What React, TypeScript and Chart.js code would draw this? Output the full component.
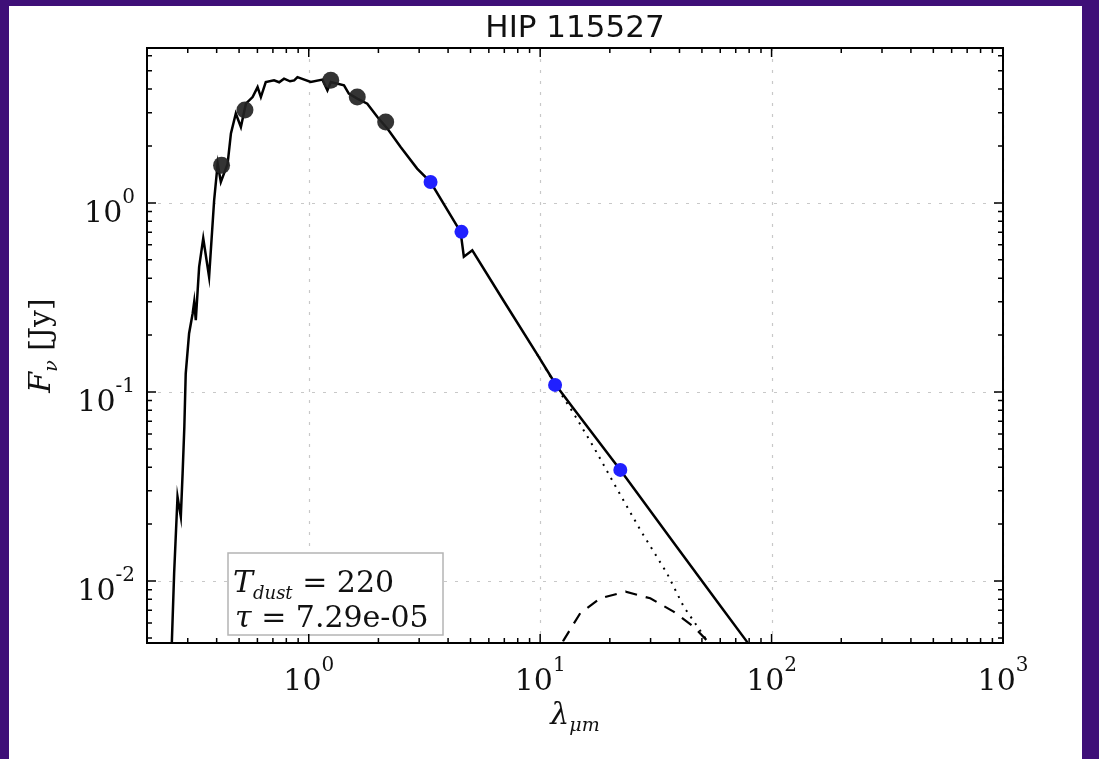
import React, { useEffect, useRef } from "react";
import { Chart, registerables } from "chart.js";

Chart.register(...registerables);

// ---- data ----
const titleText = "HIP 115527";

const modelWavelength = [0.25, 0.256, 0.262, 0.267, 0.271, 0.28, 0.285, 0.29, 0.294, 0.304, 0.315, 0.32, 0.325, 0.336, 0.35, 0.371, 0.39, 0.404, 0.417, 0.446, 0.461, 0.484, 0.509, 0.535, 0.572, 0.601, 0.621, 0.652, 0.708, 0.745, 0.782, 0.83, 0.865, 0.894, 0.95, 1.02, 1.146, 1.204, 1.245, 1.42, 1.49, 1.62, 1.79, 1.98, 2.19, 2.49, 2.94, 3.36, 4.53, 4.68, 5.09, 6.97, 9.71, 11.84, 13.75, 22.2, 37.7, 60, 78.2, 90];
const modelFlux = [0.003, 0.0047, 0.011, 0.0186, 0.0279, 0.0219, 0.037, 0.0655, 0.125, 0.204, 0.26, 0.3, 0.24, 0.459, 0.65, 0.406, 1.03, 1.61, 1.29, 1.61, 2.33, 2.97, 2.52, 3.35, 3.63, 4.1, 3.63, 4.36, 4.45, 4.35, 4.54, 4.4, 4.45, 4.63, 4.5, 4.36, 4.49, 3.94, 4.36, 4.19, 3.79, 3.56, 3.35, 2.85, 2.47, 1.98, 1.52, 1.29, 0.703, 0.519, 0.562, 0.302, 0.158, 0.1066, 0.0835, 0.0387, 0.016, 0.0074, 0.00478, 0.0037];

const photosphereWavelength = [9.71, 11.84, 13.96, 17.0, 20.8, 27.1, 35.3, 41.7, 52.6, 60];
const photosphereFlux = [0.158, 0.105, 0.077, 0.0513, 0.0329, 0.0186, 0.011, 0.00732, 0.00484, 0.0037];

const dustWavelength = [11.5, 12.6, 14.9, 18.2, 23.4, 29.9, 37.7, 46.0, 52.6, 58];
const dustFlux = [0.0038, 0.00484, 0.00676, 0.0081, 0.00879, 0.0081, 0.00689, 0.00574, 0.00484, 0.004];

const opticalWavelength = [0.42, 0.53, 1.245, 1.62, 2.15];
const opticalFlux = [1.58, 3.1, 4.45, 3.63, 2.68];

const wiseWavelength = [3.36, 4.57, 11.6, 22.2];
const wiseFlux = [1.29, 0.703, 0.109, 0.0387];

const xMajorTicks = [1, 10, 100, 1000];
const yMajorTicks = [0.01, 0.1, 1];
const minorMultipliers = [2, 3, 4, 5, 6, 7, 8, 9];
const xRange = [0.2, 1000];
const yRange = [0.0047, 6.6];

const annotationLine1 = { symbol: "T", sub: "dust", value: "220" };
const annotationLine2 = { symbol: "τ", value: "7.29e-05" };

// ---- helpers ----
type Part = { t: string; font: string; dy?: number };
function drawParts(ctx: CanvasRenderingContext2D, parts: Part[], x: number, y: number, align: "left" | "center" | "right") {
  let w = 0;
  for (const p of parts) {
    ctx.font = p.font;
    w += ctx.measureText(p.t).width;
  }
  let cx = align === "left" ? x : align === "center" ? x - w / 2 : x - w;
  ctx.textAlign = "left";
  ctx.textBaseline = "alphabetic";
  for (const p of parts) {
    ctx.font = p.font;
    ctx.fillText(p.t, cx, y + (p.dy || 0));
    cx += ctx.measureText(p.t).width;
  }
}

function minorTicks(range: number[]) {
  const out: number[] = [];
  const lo = Math.floor(Math.log10(range[0]));
  const hi = Math.ceil(Math.log10(range[1]));
  for (let e = lo; e < hi; e++) {
    for (const m of minorMultipliers) {
      const v = m * Math.pow(10, e);
      if (v > range[0] * 1.0001 && v < range[1] * 0.9999) out.push(v);
    }
  }
  return out;
}

const SERIF = '"DejaVu Serif"';
const labelFont = `30px ${SERIF}`;
const supFont = `20px ${SERIF}`;

function powLabel(v: number): Part[] {
  const e = Math.round(Math.log10(v));
  return [
    { t: "10", font: labelFont },
    { t: String(e), font: supFont, dy: -19 },
  ];
}

const sedPlugin = {
  id: "sedDecor",
  beforeDatasetsDraw(chart: any) {
    const { ctx, chartArea: a, scales } = chart;
    const xs = scales.x, ys = scales.y;
    ctx.save();
    ctx.strokeStyle = "#c8c8c8";
    ctx.lineWidth = 1.2;
    ctx.setLineDash([3, 8]);
    for (const v of xMajorTicks) {
      const px = Math.round(xs.getPixelForValue(v)) + 0.5;
      ctx.beginPath();
      ctx.moveTo(px, a.top);
      ctx.lineTo(px, a.bottom);
      ctx.stroke();
    }
    for (const v of yMajorTicks) {
      const py = Math.round(ys.getPixelForValue(v)) + 0.5;
      ctx.beginPath();
      ctx.moveTo(a.left, py);
      ctx.lineTo(a.right, py);
      ctx.stroke();
    }
    ctx.restore();
  },
  afterDatasetsDraw(chart: any) {
    const { ctx, chartArea: a, scales } = chart;
    const xs = scales.x, ys = scales.y;
    ctx.save();
    ctx.setLineDash([]);

    // annotation box
    const bx = a.left + 81, bw = 215, bb = a.bottom - 8, bh = 82;
    ctx.fillStyle = "#ffffff";
    ctx.fillRect(bx, bb - bh, bw, bh);
    ctx.strokeStyle = "#b4b4b4";
    ctx.lineWidth = 1.5;
    ctx.strokeRect(bx, bb - bh, bw, bh);
    ctx.fillStyle = "#111";
    drawParts(ctx, [
      { t: annotationLine1.symbol, font: `italic 30px ${SERIF}` },
      { t: annotationLine1.sub, font: `italic 18px ${SERIF}`, dy: 7 },
      { t: " = " + annotationLine1.value, font: `30px ${SERIF}` },
    ], bx + 5, a.bottom - 51, "left");
    drawParts(ctx, [
      { t: annotationLine2.symbol, font: `italic 30px ${SERIF}` },
      { t: " = " + annotationLine2.value, font: `30px ${SERIF}` },
    ], bx + 7, a.bottom - 16, "left");

    // frame
    ctx.strokeStyle = "#000";
    ctx.lineWidth = 2;
    ctx.strokeRect(a.left, a.top, a.right - a.left, a.bottom - a.top);

    // ticks (inward, all four sides)
    ctx.lineWidth = 1.5;
    const xMinor = minorTicks(xRange);
    const yMinor = minorTicks(yRange);
    const drawX = (v: number, len: number) => {
      const px = xs.getPixelForValue(v);
      ctx.beginPath();
      ctx.moveTo(px, a.bottom); ctx.lineTo(px, a.bottom - len);
      ctx.moveTo(px, a.top); ctx.lineTo(px, a.top + len);
      ctx.stroke();
    };
    const drawY = (v: number, len: number) => {
      const py = ys.getPixelForValue(v);
      ctx.beginPath();
      ctx.moveTo(a.left, py); ctx.lineTo(a.left + len, py);
      ctx.moveTo(a.right, py); ctx.lineTo(a.right - len, py);
      ctx.stroke();
    };
    xMajorTicks.forEach((v) => drawX(v, 9));
    xMinor.forEach((v) => drawX(v, 5));
    yMajorTicks.forEach((v) => drawY(v, 9));
    yMinor.forEach((v) => drawY(v, 5));

    ctx.restore();
  },
  afterDraw(chart: any) {
    const { ctx, chartArea: a, scales } = chart;
    const xs = scales.x, ys = scales.y;
    ctx.save();
    ctx.fillStyle = "#111";
    // tick labels
    for (const v of xMajorTicks) {
      drawParts(ctx, powLabel(v), xs.getPixelForValue(v), a.bottom + 47, "center");
    }
    for (const v of yMajorTicks) {
      drawParts(ctx, powLabel(v), a.left - 12, ys.getPixelForValue(v) + 19, "right");
    }
    const cx = (a.left + a.right) / 2;
    // title
    ctx.font = '31px "DejaVu Sans"';
    ctx.textAlign = "center";
    ctx.textBaseline = "alphabetic";
    ctx.fillText(titleText, cx, 31);
    // x label
    drawParts(ctx, [
      { t: "λ", font: `italic 30px ${SERIF}` },
      { t: "μm", font: `italic 19px ${SERIF}`, dy: 7 },
    ], cx, 718, "center");
    // y label
    ctx.translate(41, (a.top + a.bottom) / 2);
    ctx.rotate(-Math.PI / 2);
    drawParts(ctx, [
      { t: "F", font: `italic 30px ${SERIF}` },
      { t: "ν", font: `italic 19px ${SERIF}`, dy: 7 },
      { t: " [Jy]", font: `30px ${SERIF}` },
    ], 0, 0, "center");
    ctx.restore();
  },
};

function pts(xs: number[], ys: number[]) {
  return xs.map((x, i) => ({ x, y: ys[i] }));
}

export default function App() {
  const ref = useRef<HTMLCanvasElement>(null);
  useEffect(() => {
    const canvas = ref.current!;
    const chart = new Chart(canvas, {
      type: "scatter",
      data: {
        datasets: [
          {
            label: "WISE",
            data: pts(wiseWavelength, wiseFlux),
            backgroundColor: "#2020ff",
            borderColor: "#2020ff",
            pointRadius: 7,
            pointBorderWidth: 0,
            showLine: false,
            order: 0,
          },
          {
            label: "Optical / 2MASS",
            data: pts(opticalWavelength, opticalFlux),
            backgroundColor: "rgba(35,35,35,0.92)",
            borderColor: "rgba(35,35,35,0.92)",
            pointRadius: 8.5,
            pointBorderWidth: 0,
            showLine: false,
            order: 0,
          },
          {
            label: "Total model",
            data: pts(modelWavelength, modelFlux),
            borderColor: "#000",
            borderWidth: 2.5,
            pointRadius: 0,
            showLine: true,
            tension: 0,
            order: 1,
          },
          {
            label: "Photosphere",
            data: pts(photosphereWavelength, photosphereFlux),
            borderColor: "#000",
            borderWidth: 2,
            borderDash: [2, 6],
            pointRadius: 0,
            showLine: true,
            tension: 0,
            order: 2,
          },
          {
            label: "Dust",
            data: pts(dustWavelength, dustFlux),
            borderColor: "#000",
            borderWidth: 2.2,
            borderDash: [12, 9],
            pointRadius: 0,
            showLine: true,
            tension: 0,
            order: 2,
          },
        ],
      },
      options: {
        animation: false,
        responsive: false,
        events: [],
        layout: { padding: { left: 138, top: 42, right: 79, bottom: 116 } },
        plugins: { legend: { display: false }, tooltip: { enabled: false }, title: { display: false } },
        scales: {
          x: { type: "logarithmic", min: xRange[0], max: xRange[1], display: false },
          y: { type: "logarithmic", min: yRange[0], max: yRange[1], display: false },
        },
      },
      plugins: [sedPlugin],
    } as any);
    return () => chart.destroy();
  }, []);
  return (
    <div style={{ position: "fixed", inset: 0, background: "#3f0f78", overflow: "hidden" }}>
      <canvas
        ref={ref}
        width={1073}
        height={753}
        style={{ position: "absolute", left: 9, top: 6, width: 1073, height: 753, background: "#ffffff" }}
      />
    </div>
  );
}
